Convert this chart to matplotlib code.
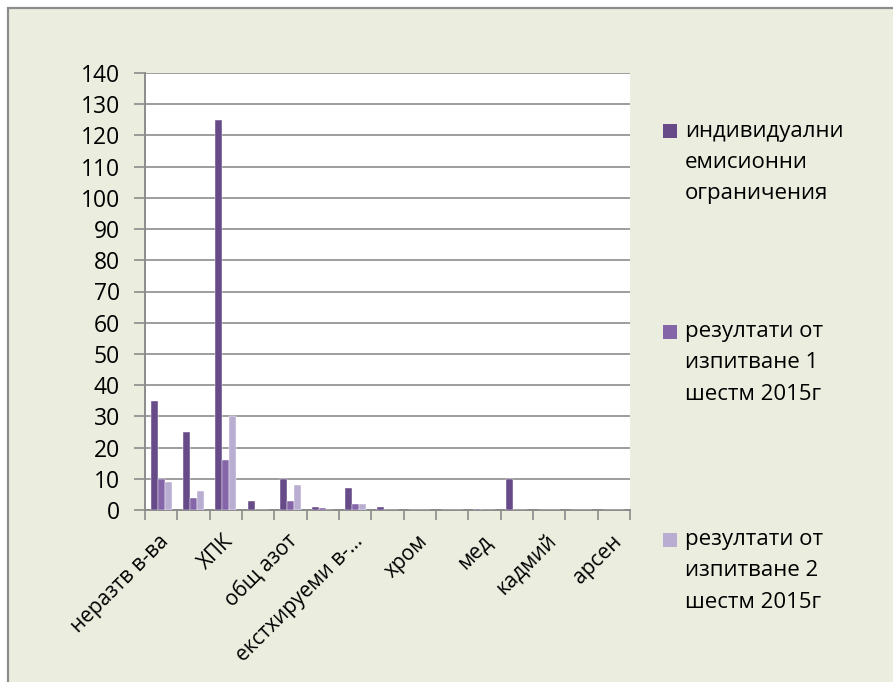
import matplotlib
matplotlib.use('Agg')
import matplotlib.pyplot as plt
import numpy as np
from matplotlib.patches import Rectangle
from matplotlib.transforms import ScaledTranslation

plt.rcParams['font.family'] = ['Open Sans', 'DejaVu Sans']

# 15 categories, Excel only shows every other label
CATEGORIES = ['неразтв в-ва', '', 'ХПК', '', 'общ азот', '', 'екстхируеми в-...', '',
              'хром', '', 'мед', '', 'кадмий', '', 'арсен']
LIMITS = [35, 25, 125, 3, 10, 1, 7, 1, 0, 0, 0.4, 10, 0, 0, 0]
TEST_1 = [10, 4, 16, 0, 3, 0.6, 2, 0, 0, 0, 0, 0, 0, 0, 0]
TEST_2 = [9, 6, 30, 0, 8, 0, 2, 0, 0, 0, 0, 0, 0, 0, 0]
SERIES_NAMES = ['индивидуални\nемисионни\nограничения',
                'резултати от\nизпитване 1\nшестм 2015г',
                'резултати от\nизпитване 2\nшестм 2015г']
COLORS = ['#664b88', '#8465a8', '#b9aed1']
YTICKS = list(range(0, 141, 10))

W, H = 893, 682
fig = plt.figure(figsize=(W / 100, H / 100), dpi=100, facecolor='white')

# chart area background + border (cut at right/bottom like the screenshot)
fig.patches.append(Rectangle((8 / W, -0.01), 1.0, 1 - 8 / H + 0.01, transform=fig.transFigure,
                             facecolor='#ebeedf', edgecolor='#8c8c8c', linewidth=1.6, zorder=-5))

ax = fig.add_axes([145 / W, 1 - 510 / H, 485 / W, 437 / H])
ax.set_facecolor('white')

x = np.arange(len(CATEGORIES))
bw = 0.217
for i, (vals, c) in enumerate(zip([LIMITS, TEST_1, TEST_2], COLORS)):
    ax.bar(x + (i - 1) * bw, vals, bw, color=c, edgecolor='white', linewidth=0.3, zorder=3)

ax.set_xlim(-0.5, len(CATEGORIES) - 0.5)
ax.set_ylim(0, 140)
ax.set_yticks(YTICKS)
ax.yaxis.grid(True, color='#8c8c8c', linewidth=1.2, zorder=0)
ax.set_axisbelow(True)
ax.tick_params(axis='y', length=8, width=1.2, color='#8c8c8c', pad=10, labelsize=16.5)

ax.set_xticks(x)
ax.set_xticklabels(CATEGORIES, rotation=45, ha='right', rotation_mode='anchor', fontsize=15)
ax.set_xticks(np.arange(-0.5, len(CATEGORIES), 1), minor=True)
ax.tick_params(axis='x', which='major', length=0, pad=15)
ax.tick_params(axis='x', which='minor', length=7, width=1.2, color='#8c8c8c')
shift = ScaledTranslation(-3 / 100, 0, fig.dpi_scale_trans)
for lbl in ax.get_xticklabels():
    lbl.set_transform(lbl.get_transform() + shift)

for s in ['top', 'right']:
    ax.spines[s].set_visible(False)
for s in ['left', 'bottom']:
    ax.spines[s].set_color('#8c8c8c')
    ax.spines[s].set_linewidth(1.4)

# legend drawn by hand to reproduce Excel's wrapped labels
first_line_y = [131, 332, 540]
for name, c, y0 in zip(SERIES_NAMES, COLORS, first_line_y):
    fig.patches.append(Rectangle((663 / W, 1 - (y0 + 7) / H), 14 / W, 14 / H,
                                 transform=fig.transFigure, facecolor=c, edgecolor='none'))
    for k, line in enumerate(name.split('\n')):
        fig.text(685 / W, 1 - (y0 + 31 * k) / H, line, fontsize=16, va='center', ha='left')

fig.savefig('out.png', dpi=100)
